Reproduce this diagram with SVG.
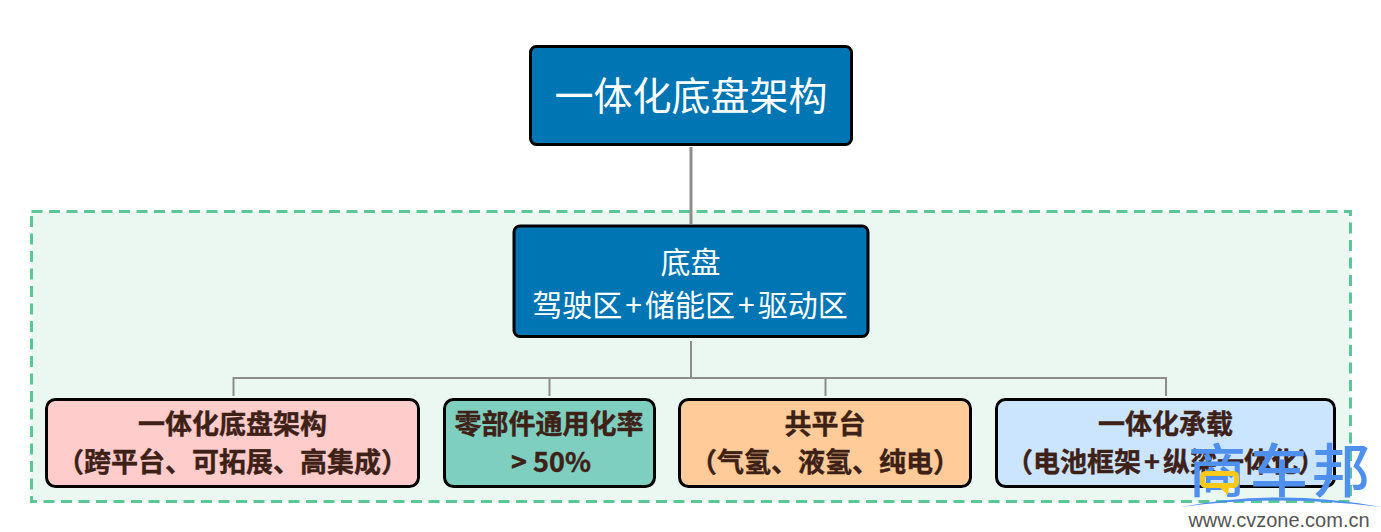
<svg xmlns="http://www.w3.org/2000/svg" width="1381" height="532" viewBox="0 0 1381 532">
<style>
.n{stroke:#000;stroke-width:3}
.w{fill:#fff;font-family:"Noto Sans CJK SC","Noto Sans",sans-serif;text-anchor:middle}
.b{fill:#3d2116;stroke:#3d2116;stroke-width:.4;font-family:"Noto Sans CJK SC","Noto Sans",sans-serif;font-weight:700;font-size:27px;text-anchor:middle}
.c{fill:none;stroke:#8c8c8c}
</style>
<rect width="1381" height="532" fill="#fff"/>
<rect id="region" x="31.500" y="211.500" width="1319" height="290" fill="#ebf8f2" stroke="#5ac795" stroke-width="3" stroke-dasharray="11 6.500"/>
<g id="connectors">
<path class="c" stroke-width="3" d="M691 147V224"/>
<path class="c" stroke-width="2" d="M691 341V378M233.500 396V378H1166V396M549.500 378V396M825.500 378V396"/>
</g>
<g id="root"><rect class="n" x="530.500" y="46.500" width="321" height="98" rx="6" fill="#0075b3"/><text class="w" x="691" y="110" font-size="39">一体化底盘架构</text></g>
<g id="chassis"><rect class="n" x="514" y="226" width="354" height="110.500" rx="6" fill="#0075b3"/><text class="w" x="690.500" y="273" font-size="30">底盘</text><text class="w" x="690" y="316" font-size="30">驾驶区<tspan dx="3">+</tspan><tspan dx="3">储能区</tspan><tspan dx="3">+</tspan><tspan dx="3">驱动区</tspan></text></g>
<g id="n1"><rect class="n" x="46.500" y="399.500" width="372" height="87" rx="9" fill="#ffcccc"/><text class="b" x="232.500" y="434">一体化底盘架构</text><text class="b" x="232.500" y="472">（跨平台、可拓展、高集成）</text></g>
<g id="n2"><rect class="n" x="444.500" y="399.500" width="210" height="87" rx="9" fill="#7fcfc0"/><text class="b" x="549" y="434">零部件通用化率</text><text class="b" x="551" y="472">&gt; 50%</text></g>
<g id="n3"><rect class="n" x="679.500" y="399.500" width="291" height="87" rx="9" fill="#ffcc99"/><text class="b" x="825" y="434">共平台</text><text class="b" x="825" y="472">（气氢、液氢、纯电）</text></g>
<g id="n4"><rect class="n" x="996.500" y="399.500" width="338" height="87" rx="9" fill="#cce5ff"/><text class="b" x="1165.500" y="434">一体化承载</text><text class="b" x="1165.500" y="472">（电池框架<tspan dx="3">+</tspan><tspan dx="3">纵梁一体化）</tspan></text></g>
<g id="watermark">
<text x="1279" y="492" font-size="58" font-weight="500" fill="#4f8fee" text-anchor="middle" font-family="'Noto Sans CJK SC',sans-serif" textLength="182" lengthAdjust="spacing">商车邦</text>
<rect x="1202.500" y="473.500" width="34" height="12" rx="3" fill="none" stroke="#fcc918" stroke-width="5"/>
<path d="M1219 487l9 8 1-8z" fill="#fcc918"/>
<path d="M1181 507Q1280 488 1381 507Q1280 494 1181 507Z" fill="#4f8fee"/>
<text x="1279" y="527" font-size="20" fill="#555" text-anchor="middle" font-family="'Liberation Sans',sans-serif">www.cvzone.com.cn</text>
</g>
</svg>
